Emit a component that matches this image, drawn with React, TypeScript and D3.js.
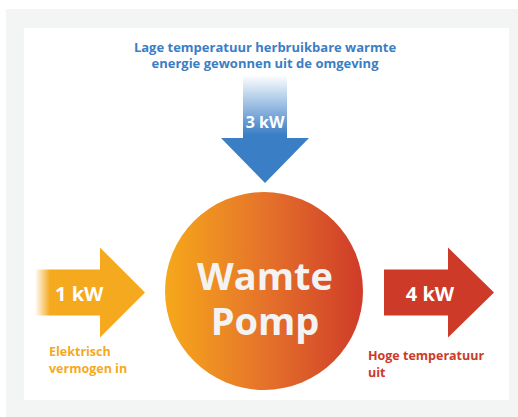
import React from 'react';
import * as d3 from 'd3';

const flowNames = ['in', 'omgeving', 'uit'];
const flowValues = [1, 3, 4];
const flowUnit = 'kW';
const flowLabels = [
  ['Elektrisch', 'vermogen in'],
  ['Lage temperatuur herbruikbare warmte', 'energie gewonnen uit de omgeving'],
  ['Hoge temperatuur', 'uit'],
];
const pumpLabel = ['Wamte', 'Pomp'];
const colors = ['#f5a91e', '#3a7ec6', '#cd3a28'];

const W = 518;
const H = 417;
const font = "'Open Sans', 'DejaVu Sans', sans-serif";

// horizontal arrow: shaft from x0 to x1, head to tip
const hArrow = (x0: number, x1: number, tip: number, cy: number, sh: number, hh: number) =>
  d3.line()([
    [x0, cy - sh], [x1, cy - sh], [x1, cy - hh], [tip, cy], [x1, cy + hh], [x1, cy + sh], [x0, cy + sh],
  ]) + 'Z';

const vArrow = (y0: number, y1: number, tip: number, cx: number, sw: number, hw: number) =>
  d3.line()([
    [cx - sw, y0], [cx + sw, y0], [cx + sw, y1], [cx + hw, y1], [cx, tip], [cx - hw, y1], [cx - sw, y1],
  ]) + 'Z';

const App = () => {
  const cx = 264;
  const cy = 291;
  const r = 99;
  const y = d3.scaleLinear().domain([0, 1]).range([248, 337]);
  const arrowY = y(0.5);

  return (
    <svg width={W} height={H} style={{ position: 'absolute', left: 0, top: 0 }}>
      <defs>
        <linearGradient id="pump" x1="0" x2="1" y1="0" y2="0">
          <stop offset="0" stopColor="#f6a81b" />
          <stop offset="0.5" stopColor="#e5732a" />
          <stop offset="1" stopColor="#cf3b29" />
        </linearGradient>
        <linearGradient id="down" x1="0" x2="0" y1="0" y2="1" gradientUnits="userSpaceOnUse" gradientTransform="">
          <stop offset="0" stopColor="#ffffff" />
          <stop offset="1" stopColor={colors[1]} />
        </linearGradient>
        <linearGradient id="downFade" x1="0" x2="0" y1="75" y2="135" gradientUnits="userSpaceOnUse">
          <stop offset="0" stopColor={colors[1]} stopOpacity="0" />
          <stop offset="1" stopColor={colors[1]} stopOpacity="1" />
        </linearGradient>
        <linearGradient id="leftFade" x1="35" x2="50" y1="0" y2="0" gradientUnits="userSpaceOnUse">
          <stop offset="0" stopColor={colors[0]} stopOpacity="0" />
          <stop offset="1" stopColor={colors[0]} stopOpacity="1" />
        </linearGradient>
      </defs>
      <rect x={6} y={9} width={W - 6} height={H - 9} fill="#f3f5f5" />
      <rect x={24} y={28} width={485} height={372} fill="#ffffff" />

      {/* title */}
      <g fontFamily={font} fontWeight="bold" fontSize={13} fill={colors[1]} textAnchor="middle">
        <text x={265} y={52}>{flowLabels[1][0]}</text>
        <text x={265} y={68}>{flowLabels[1][1]}</text>
      </g>

      {/* top arrow */}
      <path d={vArrow(75, 138, 183, 265, 22, 44)} fill="url(#downFade)" />
      <text x={265} y={128} fontFamily={font} fontWeight="bold" fontSize={16} fill="#fff" textAnchor="middle">
        {flowValues[1]} {flowUnit}
      </text>

      {/* pump */}
      <circle cx={cx} cy={cy} r={r} fill="url(#pump)" />
      <g fontFamily={font} fontWeight="bold" fontSize={38} fill="#f3f3f3" textAnchor="middle">
        <text x={cx + 1} y={290}>{pumpLabel[0]}</text>
        <text x={cx + 1} y={335}>{pumpLabel[1]}</text>
      </g>

      {/* left arrow */}
      <path d={hArrow(35, 100, 145, arrowY, 23, 45)} fill="url(#leftFade)" />
      <text x={55} y={301} fontFamily={font} fontWeight="bold" fontSize={20} fill="#fff">
        {flowValues[0]} {flowUnit}
      </text>
      <g fontFamily={font} fontWeight="bold" fontSize={12.5} fill={colors[0]}>
        <text x={49} y={356}>{flowLabels[0][0]}</text>
        <text x={49} y={373}>{flowLabels[0][1]}</text>
      </g>

      {/* right arrow */}
      <path d={hArrow(384, 448, 494, arrowY, 23, 45)} fill={colors[2]} />
      <text x={430} y={301} fontFamily={font} fontWeight="bold" fontSize={20} fill="#fff" textAnchor="middle">
        {flowValues[2]} {flowUnit}
      </text>
      <g fontFamily={font} fontWeight="bold" fontSize={12.5} fill={colors[2]}>
        <text x={368} y={360}>{flowLabels[2][0]}</text>
        <text x={368} y={377}>{flowLabels[2][1]}</text>
      </g>
    </svg>
  );
};

export default App;
